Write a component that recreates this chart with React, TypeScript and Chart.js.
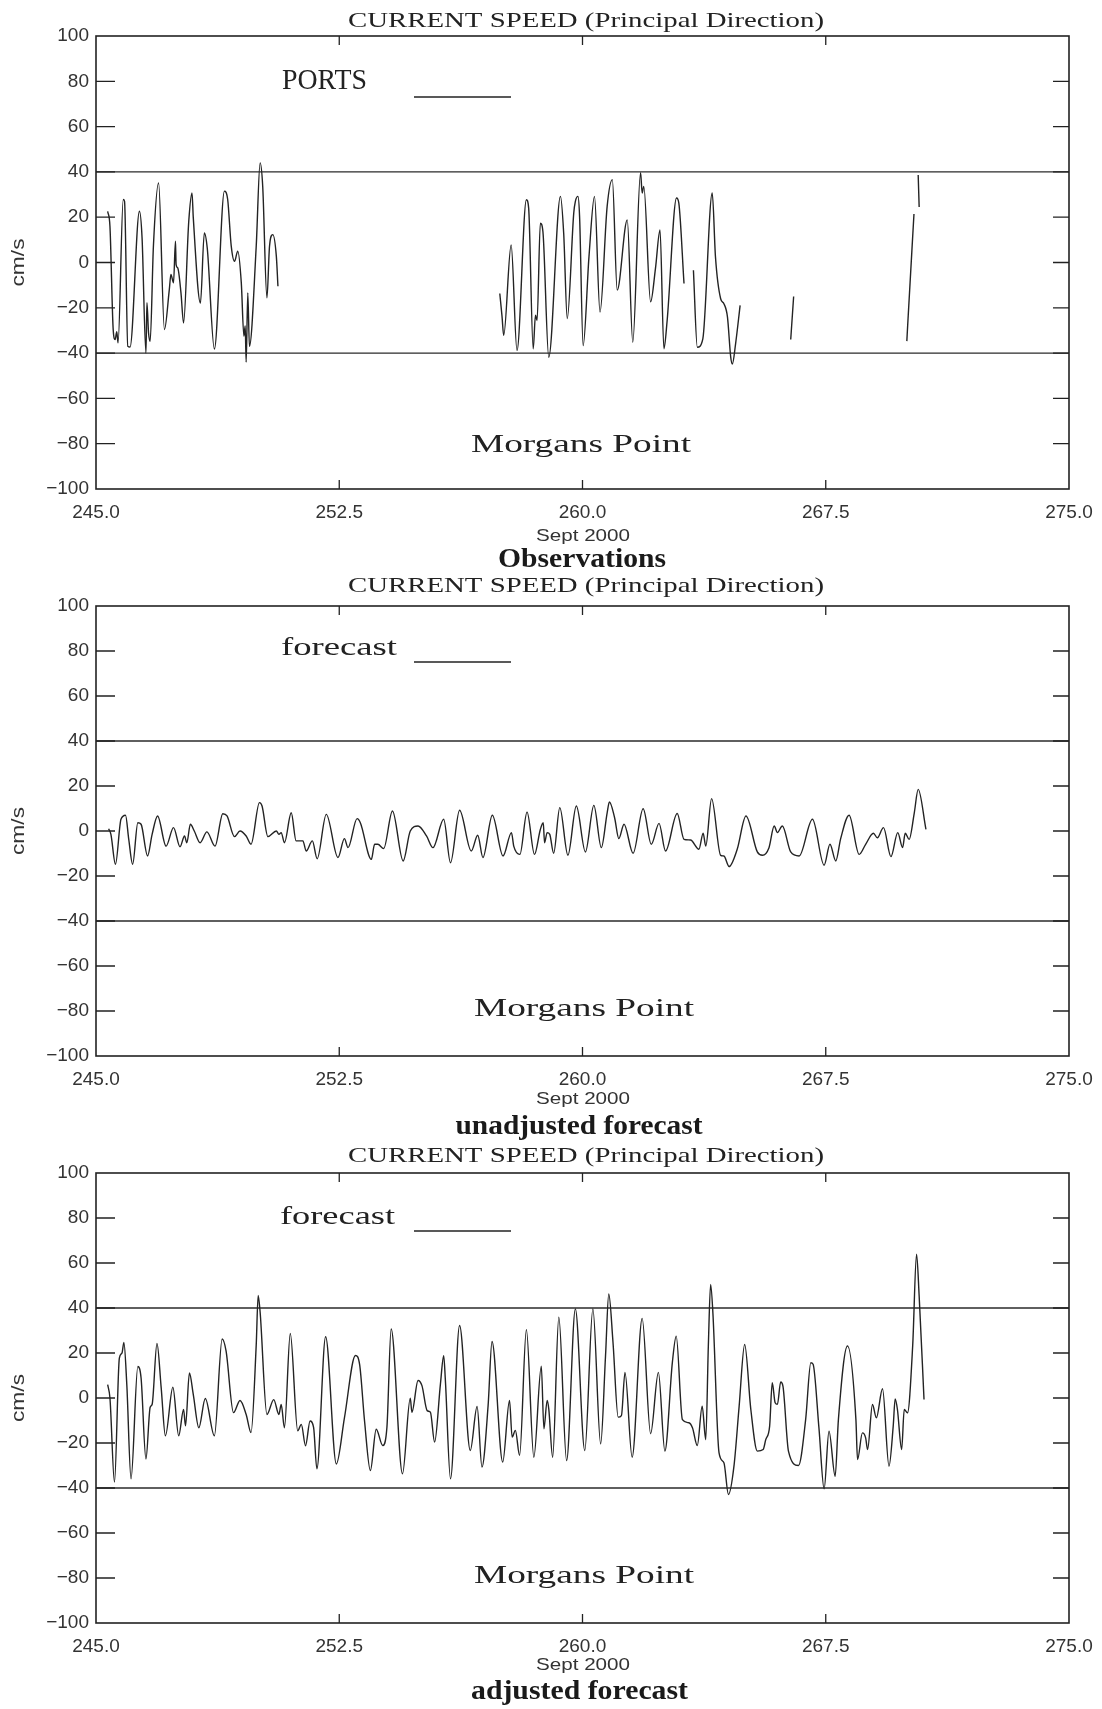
import React, { useEffect, useRef } from 'react';
import { Chart, registerables } from 'chart.js';

Chart.register(...registerables);

// ---------------- DATA ----------------
const xTickValues = [245, 252.5, 260, 267.5, 275];
const yTickValues = [-100, -80, -60, -40, -20, 0, 20, 40, 60, 80, 100];
const innerYTicks = [-80, -60, -40, -20, 0, 20, 40, 60, 80];
const innerXTicks = [252.5, 260, 267.5];
const limitValues = [40, -40];

const titleText = 'CURRENT SPEED (Principal Direction)';
const xAxisText = 'Sept 2000';
const yAxisText = 'cm/s';
const stationText = 'Morgans Point';

// Observations (PORTS) – segments separated by data gaps
const obsT1 = [245.36, 245.43, 245.53, 245.59, 245.64, 245.68, 245.84, 245.88, 245.98, 246.05, 246.34, 246.42, 246.54, 246.57, 246.62, 246.67, 246.77, 246.93, 247.11, 247.26, 247.31, 247.39, 247.45, 247.47, 247.52, 247.62, 247.70, 247.86, 247.96, 248.00, 248.22, 248.34, 248.43, 248.65, 248.96, 249.06, 249.17, 249.27, 249.37, 249.48, 249.56, 249.60, 249.63, 249.68, 249.73, 249.94, 250.06, 250.14, 250.27, 250.35, 250.45, 250.56, 250.61];
const obsV1 = [22.6, 16, -29.6, -34, -30.5, -35.5, 27.8, 27, -37, -37.3, 22.6, 10.9, -40, -17.8, -31, -34.8, 7.2, 35.1, -29.6, -12, -5.3, -9, 9.4, -0.9, -2.4, -13.4, -26.7, 18.2, 30.7, 19.7, -17.9, 13.1, 6.4, -38.2, 31.5, 27.8, 7.2, 0.5, 5, -9, -32.5, -28, -44, -13.4, -37, 7.2, 44, 33.7, -15.6, 7.2, 12.3, 2.8, -10.5];
const obsT2 = [257.45, 257.52, 257.57, 257.80, 257.98, 258.27, 258.34, 258.48, 258.55, 258.60, 258.70, 258.78, 258.96, 259.32, 259.42, 259.53, 259.73, 259.78, 259.86, 259.91, 260.02, 260.20, 260.37, 260.54, 260.76, 260.92, 261.07, 261.38, 261.55, 261.79, 261.84, 261.89, 262.10, 262.25, 262.39, 262.51, 262.61, 262.90, 262.97, 263.13];
const obsV2 = [-13.7, -24, -32.2, 7.7, -38.9, 27.7, 24, -38.1, -23.3, -25.6, 17.4, 13.6, -41.8, 29.2, 12.9, -24.8, 21.8, 27, 29.2, 20.3, -36.7, 2.6, 29.2, -21.9, 24.8, 36.6, -12.2, 18.8, -35.2, 39.6, 30.7, 33.6, -17.4, -2.6, 14.4, -38.1, -25.6, 28.5, 26.2, -9.3];
const obsT3 = [263.42, 263.54, 263.71, 264.00, 264.10, 264.26, 264.36, 264.47, 264.57, 264.62, 264.72, 264.86];
const obsV3 = [-3.4, -37.4, -33.7, 30.7, 2.4, -16, -18.2, -24.1, -41.8, -44.8, -35.9, -18.9];
const obsT4 = [266.42, 266.51];
const obsV4 = [-34, -15];
const obsT5 = [270.0, 270.03, 270.22];
const obsV5 = [-34.7, -26.7, 21.4];
const obsT6 = [270.35, 270.38];
const obsV6 = [38.6, 24.5];

// Unadjusted forecast
const unadjT = [245.39, 245.46, 245.60, 245.77, 245.91, 246.01, 246.13, 246.29, 246.39, 246.59, 246.73, 246.90, 247.16, 247.39, 247.59, 247.73, 247.80, 247.91, 248.03, 248.21, 248.42, 248.67, 248.91, 249.04, 249.27, 249.44, 249.63, 249.78, 250.04, 250.12, 250.30, 250.56, 250.64, 250.71, 250.81, 251.02, 251.17, 251.38, 251.48, 251.67, 251.82, 252.10, 252.46, 252.66, 252.77, 253.05, 253.15, 253.49, 253.59, 253.69, 253.87, 254.14, 254.47, 254.69, 254.93, 255.19, 255.39, 255.72, 255.93, 256.21, 256.57, 256.77, 256.93, 257.22, 257.55, 257.81, 257.88, 258.07, 258.29, 258.52, 258.70, 258.79, 258.83, 258.91, 258.99, 259.11, 259.30, 259.55, 259.81, 260.09, 260.35, 260.58, 260.76, 260.83, 260.99, 261.12, 261.28, 261.56, 261.87, 262.12, 262.36, 262.56, 262.92, 263.13, 263.33, 263.59, 263.72, 263.80, 263.98, 264.26, 264.36, 264.52, 264.77, 265.04, 265.39, 265.55, 265.75, 265.91, 266.01, 266.16, 266.42, 266.68, 267.09, 267.45, 267.63, 267.81, 267.96, 268.22, 268.53, 268.73, 268.97, 269.09, 269.28, 269.51, 269.72, 269.87, 269.95, 270.07, 270.23, 270.35, 270.59];
const unadjV = [1.0, -1.5, -14.8, 5.2, 7, -3.7, -14.8, 3.7, 3, -11.1, -1.5, 6.7, -6.7, 1.5, -7.0, -2.2, -5.2, 3, 0, -5.2, -0.4, -6.7, 7.7, 6.7, -2.5, 0, -2.2, -5.9, 12.6, 11.1, -2.5, 0, -1.5, -0.7, -5.2, 8.1, -4.4, -4.4, -8.9, -4.4, -12.3, 7.4, -11.8, -3.4, -7.4, 5.5, 3.7, -12.6, -5.9, -5.9, -7.8, 8.9, -13.3, 0, 2.2, -2.2, -7.4, 5.2, -14.1, 9.2, -8.9, -1.9, -11.8, 7, -11.1, -0.7, -6.7, -10.4, 8.4, -10.4, 0.7, 3.7, -5.2, -0.7, -1.5, -9.9, 10.4, -10.8, 11.1, -9.3, 11.4, -7.4, 8.1, 12.9, 5.9, -3.4, 3, -9.9, 9.9, -5.9, 3.4, -8.9, 7.8, -3.7, -4, -8.1, -1, -6.7, 14.4, -10.8, -11.1, -15.8, -8.1, 6.7, -9.3, -10.8, -7.4, 2.2, -0.7, 2.2, -9.3, -11.1, 5.2, -15.2, -5.9, -13.3, -3.4, 7, -10.4, -5.9, -1, -3, 1.5, -11.4, -0.7, -7.4, -1, -3.7, 8.1, 18.5, 0.7];

// Adjusted forecast
const adjT = [245.36, 245.43, 245.57, 245.72, 245.80, 245.86, 245.95, 246.08, 246.29, 246.39, 246.54, 246.67, 246.73, 246.88, 247.01, 247.14, 247.37, 247.55, 247.70, 247.76, 247.88, 248.00, 248.17, 248.37, 248.65, 248.89, 249.01, 249.24, 249.44, 249.63, 249.78, 249.94, 250.00, 250.06, 250.27, 250.48, 250.64, 250.71, 250.81, 250.99, 251.22, 251.33, 251.46, 251.60, 251.71, 251.81, 252.08, 252.41, 252.66, 253.00, 253.13, 253.28, 253.46, 253.64, 253.84, 253.97, 254.10, 254.45, 254.69, 254.74, 254.93, 255.05, 255.21, 255.31, 255.44, 255.62, 255.72, 255.77, 255.93, 256.21, 256.54, 256.75, 256.90, 257.09, 257.21, 257.54, 257.75, 257.83, 257.93, 258.06, 258.27, 258.50, 258.73, 258.81, 258.91, 258.96, 259.08, 259.27, 259.51, 259.78, 260.07, 260.32, 260.56, 260.71, 260.81, 260.94, 261.10, 261.20, 261.31, 261.53, 261.84, 262.10, 262.34, 262.54, 262.77, 262.89, 263.08, 263.28, 263.39, 263.54, 263.69, 263.80, 263.88, 263.95, 264.02, 264.21, 264.36, 264.50, 264.67, 264.83, 265.00, 265.19, 265.39, 265.57, 265.65, 265.77, 265.85, 265.94, 266.01, 266.11, 266.18, 266.35, 266.66, 266.88, 267.04, 267.11, 267.29, 267.45, 267.60, 267.79, 267.89, 268.17, 268.43, 268.48, 268.63, 268.73, 268.79, 268.94, 269.06, 269.25, 269.45, 269.58, 269.64, 269.71, 269.84, 269.92, 270.02, 270.18, 270.30, 270.38, 270.53];
const adjV = [5.9, 0, -37.4, 17.7, 19.9, 24.7, 5.9, -35.9, 14, 8.9, -27.1, -4.1, -2.9, 24.3, 4.5, -16.8, 4.8, -16.8, -5.1, -12.4, 11.1, 1.5, -13.2, -0.2, -16.8, 26.2, 20.9, -6.5, -1.1, -7.3, -15.4, 23.6, 45.6, 38.2, -7.3, -0.7, -7.3, -2.9, -13.2, 28.7, -14.6, -11.7, -21.2, -10.2, -13.2, -31.5, 27.2, -29.3, -8.8, 18.9, 14.7, -10.2, -32.2, -13.9, -21.1, -13, 30.7, -33.7, -0.1, -6.3, 7.8, 5.5, -5.6, -6.3, -19.6, 6.3, 18.8, 8.5, -35.9, 32.2, -23.3, -3.8, -30.7, -3.3, 25.1, -28.5, -1.1, -17.4, -14.4, -25.5, 30.4, -26.3, 14.1, -13.7, -1.1, -4.8, -26.3, 35.9, -27.8, 39.6, -23.3, 39.6, -20.4, 18.8, 46.2, 24.8, -8.5, -7.8, 11.4, -26.3, 35.4, -15.9, 11.4, -23.6, 15.7, 27.5, -9.6, -11, -13.2, -21.1, -3.6, -18.5, 23.1, 50.5, 37.9, -24.4, -28.8, -42.9, -30.3, -3.6, 23.8, -5.1, -23.6, -22.9, -18.5, -12.5, 6.8, -2.1, -2.8, 7.1, 5.3, -23.6, -30, -9.6, 15.7, 15, -13.3, -40.4, -14.7, -34.8, -9.6, 23.1, -9.6, -27.4, -15.5, -17.7, -22.9, -2.9, -8.8, 4.1, -30.3, -12.5, -0.4, -5.1, -22.9, -5.1, -6.6, 23.1, 63.9, 45.3, -0.7];

// ---------------- HELPERS ----------------
type Pt = { x: number; y: number | null };

function toPoints(segments: [number[], number[]][]): Pt[] {
  const out: Pt[] = [];
  segments.forEach(([ts, vs], i) => {
    if (i > 0) {
      const prev = out[out.length - 1];
      out.push({ x: (prev.x + ts[0]) / 2, y: null });
    }
    ts.forEach((t, j) => out.push({ x: t, y: vs[j] }));
  });
  return out;
}

const obsPoints = toPoints([[obsT1, obsV1], [obsT2, obsV2], [obsT3, obsV3], [obsT4, obsV4], [obsT5, obsV5], [obsT6, obsV6]]);
const unadjPoints = toPoints([[unadjT, unadjV]]);
const adjPoints = toPoints([[adjT, adjV]]);

// ---------------- LAYOUT ----------------
const PAGE_W = 1102;
const PAGE_H = 1709;
const PLOT_LEFT = 96;
const PLOT_RIGHT = 1069;
const X_AXIS_H = 40;
const INK = '#222222';

const panels = [
  { points: obsPoints, top: 36, bottom: 489, titleBase: 27, legend: 'PORTS', legendFont: '29px "Liberation Serif"', legendX: 282, legendBase: 89, legendW: 85, lineY: 97, mpX: 471, mpBase: 452, sepBase: 541, caption: 'Observations', capX: 582, capBase: 567, capW: 168 },
  { points: unadjPoints, top: 606, bottom: 1056, titleBase: 592, legend: 'forecast', legendFont: '26px "Liberation Serif"', legendX: 281, legendBase: 655, legendW: 116, lineY: 662, mpX: 474, mpBase: 1016, sepBase: 1104, caption: 'unadjusted forecast', capX: 579, capBase: 1134, capW: 247 },
  { points: adjPoints, top: 1173, bottom: 1623, titleBase: 1162, legend: 'forecast', legendFont: '26px "Liberation Serif"', legendX: 280, legendBase: 1224, legendW: 115, lineY: 1231, mpX: 474, mpBase: 1583, sepBase: 1670, caption: 'adjusted forecast', capX: 579.5, capBase: 1699, capW: 217 },
];

function fitText(ctx: CanvasRenderingContext2D, text: string, x: number, y: number, font: string, width: number, align: CanvasTextAlign) {
  ctx.save();
  ctx.font = font;
  const w = ctx.measureText(text).width || 1;
  const s = width / w;
  ctx.translate(x, y);
  ctx.scale(s, 1);
  ctx.textAlign = align;
  ctx.textBaseline = 'alphabetic';
  ctx.fillText(text, 0, 0);
  ctx.restore();
}

function framePlugin(p: typeof panels[number]) {
  return {
    id: 'frame',
    afterDraw(chart: any) {
      const { ctx, chartArea } = chart;
      const { left, right, top, bottom } = chartArea;
      const xs = chart.scales.x;
      const ys = chart.scales.y;
      ctx.save();
      ctx.strokeStyle = INK;
      ctx.fillStyle = INK;
      ctx.lineWidth = 1.6;
      ctx.strokeRect(left, top, right - left, bottom - top);
      ctx.lineWidth = 1.3;
      ctx.beginPath();
      innerXTicks.forEach((v) => {
        const px = xs.getPixelForValue(v);
        ctx.moveTo(px, top); ctx.lineTo(px, top + 9);
        ctx.moveTo(px, bottom); ctx.lineTo(px, bottom - 9);
      });
      innerYTicks.forEach((v) => {
        const py = ys.getPixelForValue(v);
        ctx.moveTo(left, py); ctx.lineTo(left + 19, py);
        ctx.moveTo(right - 16, py); ctx.lineTo(right, py);
      });
      ctx.stroke();

      // title
      fitText(ctx, titleText, 586, p.titleBase, '21.5px "Liberation Serif"', 476, 'center');
      // legend
      fitText(ctx, p.legend, p.legendX, p.legendBase, p.legendFont, p.legendW, 'left');
      ctx.lineWidth = 1.3;
      ctx.beginPath();
      ctx.moveTo(414, p.lineY); ctx.lineTo(511, p.lineY);
      ctx.stroke();
      // station
      fitText(ctx, stationText, p.mpX, p.mpBase, '26px "Liberation Serif"', 220, 'left');
      // x axis title
      ctx.fillStyle = '#333';
      fitText(ctx, xAxisText, 583, p.sepBase, '17px "Liberation Sans"', 94, 'center');
      // y axis title
      ctx.save();
      ctx.translate(24, (top + bottom) / 2);
      ctx.rotate(-Math.PI / 2);
      fitText(ctx, yAxisText, 0, 0, '18px "Liberation Sans"', 48, 'center');
      ctx.restore();
      // caption
      ctx.fillStyle = '#1a1a1a';
      fitText(ctx, p.caption, p.capX, p.capBase, 'bold 28px "Liberation Serif"', p.capW, 'center');
      ctx.restore();
    },
  };
}

function makeConfig(p: typeof panels[number]): any {
  const zeroPad = (s: any) => { s.paddingLeft = 0; s.paddingRight = 0; s.paddingTop = 0; s.paddingBottom = 0; };
  return {
    type: 'line',
    data: {
      datasets: [
        {
          data: p.points,
          borderColor: '#232323',
          borderWidth: 1.4,
          pointRadius: 0,
          fill: false,
          spanGaps: false,
          cubicInterpolationMode: 'monotone',
        },
        ...limitValues.map((v) => ({
          data: [{ x: xTickValues[0], y: v }, { x: xTickValues[xTickValues.length - 1], y: v }],
          borderColor: '#2a2a2a',
          borderWidth: 1.3,
          pointRadius: 0,
          fill: false,
        })),
      ],
    },
    options: {
      animation: false,
      responsive: false,
      maintainAspectRatio: false,
      events: [],
      layout: { padding: { left: 0, right: PAGE_W - PLOT_RIGHT, top: p.top, bottom: PAGE_H - p.bottom - X_AXIS_H } },
      plugins: { legend: { display: false }, tooltip: { enabled: false }, title: { display: false } },
      scales: {
        x: {
          type: 'linear',
          min: xTickValues[0],
          max: xTickValues[xTickValues.length - 1],
          afterBuildTicks: (s: any) => { s.ticks = xTickValues.map((value) => ({ value })); },
          afterFit: (s: any) => { s.height = X_AXIS_H; zeroPad(s); },
          grid: { display: false, drawTicks: false },
          border: { display: false },
          ticks: {
            autoSkip: false,
            maxRotation: 0,
            padding: 12,
            color: '#333',
            font: { family: 'Liberation Sans', size: 19 },
            callback: (v: any) => Number(v).toFixed(1),
          },
        },
        y: {
          type: 'linear',
          min: -100,
          max: 100,
          afterBuildTicks: (s: any) => { s.ticks = yTickValues.map((value) => ({ value })); },
          afterFit: (s: any) => { s.width = PLOT_LEFT; zeroPad(s); },
          grid: { display: false, drawTicks: false },
          border: { display: false },
          ticks: {
            autoSkip: false,
            padding: 7,
            color: '#333',
            font: { family: 'Liberation Sans', size: 19 },
            callback: (v: any) => (Number(v) < 0 ? '\u2212' + Math.abs(Number(v)) : String(v)),
          },
        },
      },
    },
    plugins: [framePlugin(p)],
  };
}

function Panel({ p }: { p: typeof panels[number] }) {
  const ref = useRef<HTMLCanvasElement | null>(null);
  useEffect(() => {
    if (!ref.current) return;
    const chart = new Chart(ref.current, makeConfig(p));
    return () => chart.destroy();
  }, [p]);
  return (
    <canvas
      ref={ref}
      width={PAGE_W}
      height={PAGE_H}
      style={{ position: 'absolute', left: 0, top: 0, width: PAGE_W, height: PAGE_H }}
    />
  );
}

export default function App() {
  return (
    <div style={{ position: 'absolute', left: 0, top: 0, width: PAGE_W, height: PAGE_H, background: '#ffffff', overflow: 'hidden' }}>
      {panels.map((p, i) => (
        <Panel key={i} p={p} />
      ))}
    </div>
  );
}
